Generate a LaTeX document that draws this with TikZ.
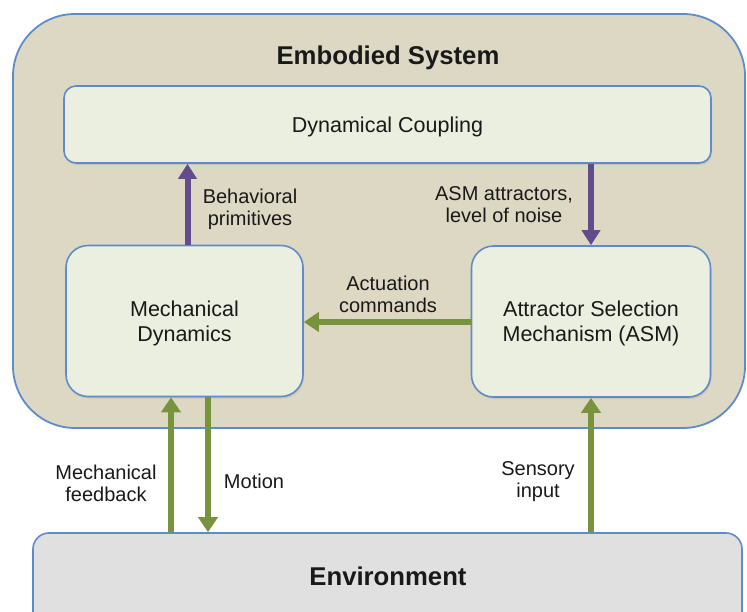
\documentclass[tikz,border=0pt]{standalone}
\usepackage{fontspec}
\setmainfont{Liberation Sans}
\usetikzlibrary{arrows.meta,shadows}
\definecolor{tanfill}{RGB}{221,216,196}
\definecolor{boxfill}{RGB}{235,239,224}
\definecolor{envfill}{RGB}{224,224,224}
\definecolor{bordblue}{RGB}{95,140,200}
\definecolor{purp}{RGB}{100,75,140}
\definecolor{grn}{RGB}{119,147,60}
\definecolor{txt}{RGB}{25,25,25}
\tikzset{
  boxstyle/.style={draw=bordblue, line width=1.6pt, fill=boxfill, text=txt, align=center,
    font=\fontsize{21.5}{25}\selectfont, text depth=0pt,
    drop shadow={opacity=0.22, shadow xshift=1pt, shadow yshift=-2pt}},
  lbl/.style={text=txt, align=center, font=\fontsize{20}{22}\selectfont, inner sep=0pt},
  ttl/.style={text=txt, font=\fontsize{25.7}{30}\selectfont\bfseries, inner sep=0pt},
  parr/.style={draw=purp, line width=6pt, -{Triangle[width=18pt,length=15pt]}},
  garr/.style={draw=grn, line width=6.5pt, -{Triangle[width=19pt,length=15pt]}},
}
\begin{document}
\begin{tikzpicture}[x=1pt,y=-1pt]
\useasboundingbox (0,0) rectangle (747,612);
% outer embodied system
\node[draw=bordblue, line width=1.8pt, fill=tanfill, rounded corners=62pt,
  minimum width=732pt, minimum height=414pt, inner sep=0pt] (emb) at (379,221) {};
\node[ttl] (embtitle) at (388,57.5) {Embodied System};
% environment
\node[draw=bordblue, line width=1.6pt, fill=envfill, rounded corners=16pt,
  minimum width=709pt, minimum height=110pt, inner sep=0pt,
  drop shadow={opacity=0.22, shadow xshift=1pt, shadow yshift=-2pt}] (env) at (387.5,588) {};
\node[ttl] (envtitle) at (388,576) {Environment};
% inner boxes
\node[boxstyle, rounded corners=12pt, minimum width=647pt, minimum height=77pt] (dc) at (387.5,124.5) {Dynamical Coupling};
\node[boxstyle, rounded corners=22pt, minimum width=237pt, minimum height=151pt] (md) at (184.5,321) {Mechanical\\Dynamics};
\node[boxstyle, rounded corners=22pt, minimum width=239pt, minimum height=151pt] (asm) at (591,321.5) {Attractor Selection\\Mechanism (ASM)};
% purple arrows
\draw[parr] ([xshift=3pt]md.north) -- ([xshift=3pt]md.north |- dc.south);
\draw[parr] (asm.north |- dc.south) -- (asm.north);
% green arrows
\draw[garr] (asm.west |- 0,322) -- (md.east |- 0,322);
\draw[garr] (171,0 |- env.north) -- (171,0 |- md.south);
\draw[garr] (208,0 |- md.south) -- (208,0 |- env.north);
\draw[garr] (env.north -| asm.south) -- (asm.south);
% labels
\node[lbl] (lbeh) at (250,209) {Behavioral\\primitives};
\node[lbl] (lasm) at (504,205) {ASM attractors,\\level of noise};
\node[lbl] (lact) at (388,294.5) {Actuation\\commands};
\node[lbl] (lmf) at (106,483) {Mechanical\\feedback};
\node[lbl] (lmot) at (254,481) {Motion};
\node[lbl] (lsen) at (538,481.5) {Sensory\\input};
\end{tikzpicture}
\end{document}
